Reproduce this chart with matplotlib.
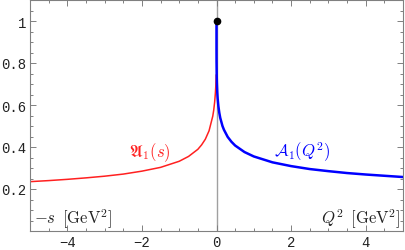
import matplotlib
matplotlib.use("Agg")
import matplotlib.pyplot as plt
from matplotlib.ticker import MultipleLocator, FixedLocator

# A_1(Q^2), spacelike (blue)
q2 = [0, 0.0001, 0.001, 0.005, 0.01, 0.02, 0.03, 0.05, 0.075, 0.1, 0.16, 0.2,
      0.3, 0.4, 0.5, 0.75, 1.0, 1.5, 2.0, 2.5, 3.0, 3.5, 4.0, 4.5, 5.0]
a_space = [1.0, 0.865, 0.809, 0.744, 0.706, 0.662, 0.633, 0.595, 0.563, 0.539,
           0.500, 0.482, 0.448, 0.425, 0.407, 0.376, 0.355, 0.327, 0.309, 0.295,
           0.285, 0.276, 0.269, 0.263, 0.257]

# fraktur A_1(s), timelike (red), plotted at -s
s = [0.008, 0.02, 0.03, 0.05, 0.075, 0.1, 0.2, 0.3, 0.4, 0.5, 0.75, 1.0, 1.5,
     2.0, 2.5, 3.0, 3.5, 4.0, 4.5, 5.0]
a_time = [0.742, 0.686, 0.656, 0.613, 0.575, 0.547, 0.477, 0.437, 0.410, 0.389,
          0.355, 0.332, 0.303, 0.285, 0.271, 0.261, 0.253, 0.246, 0.240, 0.235]

x_ticks = [-4, -2, 0, 2, 4]
y_ticks = [0.2, 0.4, 0.6, 0.8, 1.0]

plt.rcParams['mathtext.fontset'] = 'cm'

fig = plt.figure(figsize=(4.05, 2.51), dpi=100)
ax = fig.add_axes([30 / 405, 1 - 232 / 251, 373 / 405, 231 / 251])

ax.axvline(0, color='#a0a0a0', lw=1.0, zorder=1)
ax.plot([-v for v in s], a_time, color='#ff2020', lw=1.1, zorder=2)
ax.plot(q2, a_space, color='#0000ff', lw=1.8, zorder=3)
ax.plot([0], [1.0], 'o', color='black', ms=4.5, zorder=4)

ax.set_xlim(-5, 5)
ax.set_ylim(0, 1.1)

ax.xaxis.set_major_locator(FixedLocator(x_ticks))
ax.yaxis.set_major_locator(FixedLocator(y_ticks))
ax.xaxis.set_minor_locator(MultipleLocator(0.5))
ax.yaxis.set_minor_locator(MultipleLocator(0.05))
ax.set_xticklabels(['−4', '−2', '0', '2', '4'])
ax.set_yticklabels(['0.2', '0.4', '0.6', '0.8', '1'])

for sp in ax.spines.values():
    sp.set_color('#808080')
    sp.set_linewidth(0.8)
ax.tick_params(which='both', direction='in', top=True, right=True,
               color='#808080', width=0.7)
ax.tick_params(which='major', length=4, labelsize=10, pad=3, labelcolor='#222222')
ax.tick_params(which='minor', length=2)
for lab in ax.get_xticklabels() + ax.get_yticklabels():
    lab.set_family('Liberation Mono')

ax.text(-2.35, 0.378, r'$\mathfrak{A}_1(s)$', color='#ff2020', fontsize=12,
        ha='left', va='center')
ax.text(1.55, 0.378, r'$\mathcal{A}_1(Q^2)$', color='#0000ff', fontsize=12,
        ha='left', va='center')
ax.text(-4.9, 0.06, r'$-s\ \,[\mathrm{GeV}^2]$', color='#222222', fontsize=12,
        ha='left', va='center')
ax.text(4.93, 0.06, r'$Q^2\ \,[\mathrm{GeV}^2]$', color='#222222', fontsize=12,
        ha='right', va='center')

fig.savefig('out.png', dpi=100)
